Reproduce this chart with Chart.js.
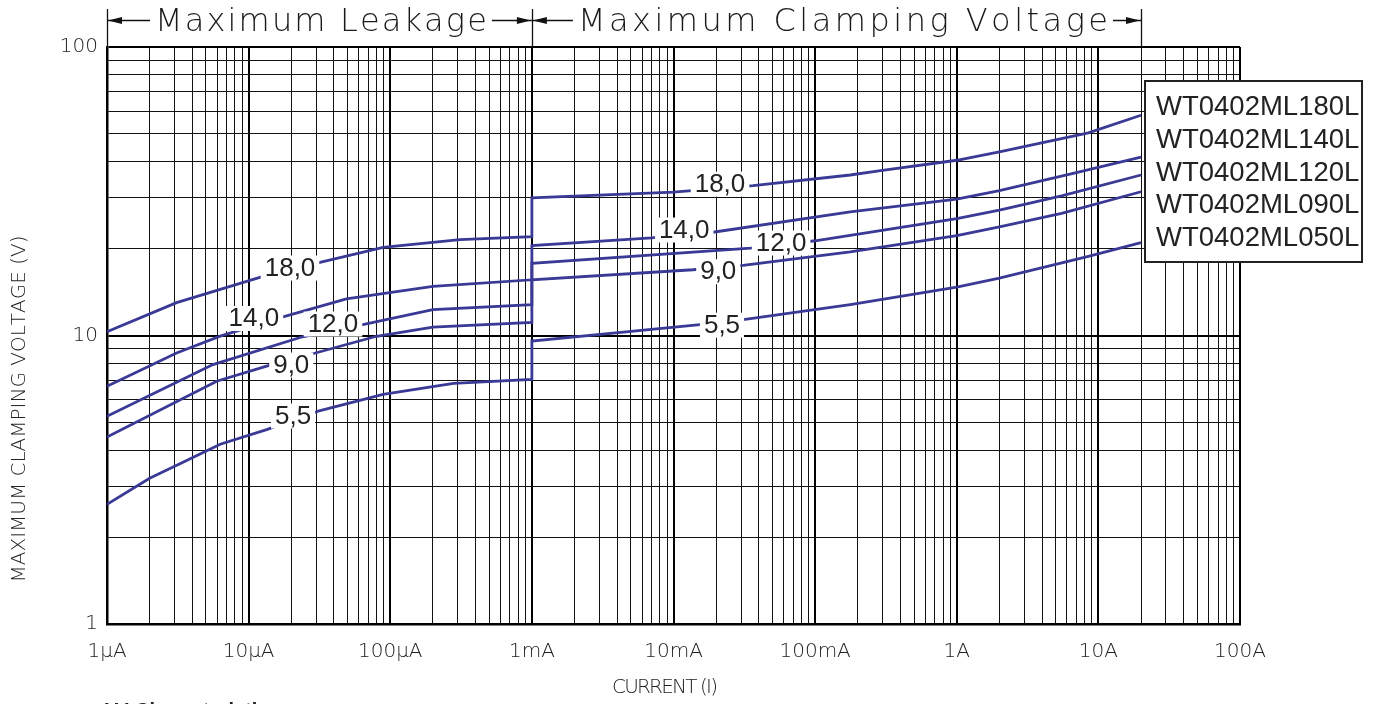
<!DOCTYPE html>
<html>
<head>
<meta charset="utf-8">
<script src="https://cdn.jsdelivr.net/npm/chart.js@4.4.1/dist/chart.umd.min.js"></script>
<style>
html,body{margin:0;padding:0;background:#fff;overflow:hidden}
#wrap{width:1375px;height:704px;position:relative}
</style>
</head>
<body>
<div id="wrap"><canvas id="c" width="1375" height="704"></canvas></div>
<script>
// ---------------- DATA ----------------
const seriesNames = ['WT0402ML180L','WT0402ML140L','WT0402ML120L','WT0402ML090L','WT0402ML050L'];

const current180 = [1e-6, 3.1e-6, 1.2e-5, 3.3e-5, 8.9e-5, 3.1e-4, 1e-3, 1e-3, 1e-2, 3.65e-2, 0.177, 0.29, 1, 2, 8.5, 20];
const voltage180 = [10.3, 13.0, 15.9, 18.0, 20.2, 21.5, 22.0, 30.0, 31.4, 33.1, 36.0, 37.3, 40.5, 43.3, 50.4, 58.0];

const current140 = [1e-6, 3.1e-6, 6.3e-6, 1.75e-5, 4.9e-5, 2.0e-4, 1e-3, 1e-3, 7e-3, 1.9e-2, 0.177, 1, 2, 6.2, 20];
const voltage140 = [6.67, 8.7, 9.95, 11.6, 13.4, 14.8, 15.6, 20.5, 21.8, 22.8, 26.8, 29.7, 31.8, 36.2, 41.5];

const current120 = [1e-6, 5.6e-6, 2.4e-5, 6.4e-5, 2.0e-4, 1e-3, 1e-3, 3.5e-2, 0.1, 1, 2, 5.5, 20];
const voltage120 = [5.25, 7.93, 9.9, 10.9, 12.3, 12.8, 17.8, 20.1, 21.3, 25.4, 27.2, 30.5, 36.0];

const current090 = [1e-6, 5.95e-6, 1.34e-5, 3.1e-5, 8.0e-5, 2.0e-4, 1e-3, 1e-3, 1.37e-2, 3.1e-2, 0.177, 1, 2, 5.5, 20];
const voltage090 = [4.45, 6.94, 7.83, 8.75, 9.94, 10.7, 11.1, 15.6, 16.9, 17.5, 19.5, 22.2, 23.8, 26.5, 31.5];

const current050 = [1e-6, 2e-6, 3.3e-6, 6.3e-6, 1.34e-5, 3.1e-5, 8.9e-5, 2.8e-4, 1e-3, 1e-3, 1.54e-2, 3.3e-2, 0.177, 1, 2, 8.5, 20];
const voltage050 = [2.6, 3.2, 3.6, 4.2, 4.72, 5.47, 6.25, 6.82, 7.04, 9.56, 10.9, 11.4, 12.8, 14.7, 15.8, 18.8, 21.0];

const xTickDecades = [1e-6, 1e-5, 1e-4, 1e-3, 1e-2, 1e-1, 1, 10, 100];
const xTickLabels  = ['1\u00B5A','10\u00B5A','100\u00B5A','1mA','10mA','100mA','1A','10A','100A'];
const yTickDecades = [1, 10, 100];
const yTickLabels  = ['1','10','100'];

const sectionTitles = ['Maximum Leakage', 'Maximum Clamping Voltage'];
const sectionBounds = [1e-6, 1e-3, 20];

const curveLabelText    = ['18,0','14,0','12,0','9,0','5,5','18,0','14,0','12,0','9,0','5,5'];
const curveLabelCurrent = [1.96e-5, 1.09e-5, 3.94e-5, 2.0e-5, 2.06e-5, 2.13e-2, 1.19e-2, 5.75e-2, 2.07e-2, 2.2e-2];
const curveLabelVoltage = [17.2, 11.5, 11.0, 7.93, 5.28, 33.6, 23.3, 21.0, 16.7, 10.9];

const xAxisTitle = 'CURRENT (I)';
const yAxisTitle = 'MAXIMUM CLAMPING VOLTAGE (V)';
const footerText = 'V-I Characteristics';

// ---------------- BUILD ----------------
const currents = [current180, current140, current120, current090, current050];
const voltages = [voltage180, voltage140, voltage120, voltage090, voltage050];

function minorTicks(lo, hi) {
  const out = [];
  for (let e = Math.round(Math.log10(lo)); e <= Math.round(Math.log10(hi)); e++) {
    for (let m = 1; m <= 9; m++) {
      const v = m * Math.pow(10, e);
      if (v >= lo * 0.999 && v <= hi * 1.001) out.push(v);
    }
  }
  return out;
}
function isDecade(v) {
  const l = Math.log10(v);
  return Math.abs(l - Math.round(l)) < 1e-6;
}
function decadeLabel(v, decs, labels) {
  if (!isDecade(v)) return '';
  const l = Math.round(Math.log10(v));
  for (let i = 0; i < decs.length; i++) if (Math.round(Math.log10(decs[i])) === l) return labels[i];
  return '';
}

const LINE_COLOR = '#3a3a96';
const datasets = seriesNames.map((name, i) => ({
  label: name,
  data: currents[i].map((c, j) => ({x: c, y: voltages[i][j]})),
  borderColor: LINE_COLOR,
  borderWidth: 2.8,
  pointRadius: 0,
  fill: false,
  tension: 0
}));

const TEXT_FONT = '"DejaVu Sans"';

function drawFitted(ctx, text, cx, cy, target) {
  const chars = [...text];
  const widths = chars.map(ch => ctx.measureText(ch).width);
  const w0 = widths.reduce((a, b) => a + b, 0);
  const sp = chars.length > 1 ? (target - w0) / (chars.length - 1) : 0;
  let x = cx - target / 2;
  ctx.textAlign = 'left';
  chars.forEach((ch, k) => { ctx.fillText(ch, x, cy); x += widths[k] + sp; });
}

const decor = {
  id: 'decor',
  afterDatasetsDraw(chart) {
    const ctx = chart.ctx, xs = chart.scales.x, ys = chart.scales.y;
    ctx.save();
    ctx.font = '26px "Liberation Sans", Arial, sans-serif';
    ctx.textBaseline = 'middle';
    ctx.textAlign = 'center';
    for (let i = 0; i < curveLabelText.length; i++) {
      const px = xs.getPixelForValue(curveLabelCurrent[i]);
      const py = ys.getPixelForValue(curveLabelVoltage[i]);
      const w = ctx.measureText(curveLabelText[i]).width;
      ctx.fillStyle = '#ffffff';
      ctx.fillRect(px - w / 2 - 4, py - 12, w + 8, 25);
      ctx.fillStyle = '#222222';
      ctx.fillText(curveLabelText[i], px, py + 1);
    }
    ctx.restore();
  },
  afterDraw(chart) {
    const ctx = chart.ctx, xs = chart.scales.x, ys = chart.scales.y, ca = chart.chartArea;
    ctx.save();
    // ---- section titles with arrows ----
    const bx = sectionBounds.map(v => xs.getPixelForValue(v));
    const yA = 20;
    ctx.strokeStyle = '#111';
    ctx.fillStyle = '#111';
    ctx.lineWidth = 1.3;
    bx.forEach(x => {
      ctx.beginPath(); ctx.moveTo(Math.round(x) + 0.5, 9); ctx.lineTo(Math.round(x) + 0.5, ca.top); ctx.stroke();
    });
    const margins = [[48, 45], [46, 33]];
    ctx.font = '200 32px ' + TEXT_FONT;
    ctx.textBaseline = 'alphabetic';
    for (let s = 0; s < sectionTitles.length; s++) {
      const L = bx[s], R = bx[s + 1];
      const tl = L + margins[s][0], tr = R - margins[s][1];
      ctx.fillStyle = '#1a1a1a';
      drawFitted(ctx, sectionTitles[s], (tl + tr) / 2, 31, tr - tl);
      ctx.fillStyle = '#111';
      ctx.beginPath();
      ctx.moveTo(L, yA + 0.5); ctx.lineTo(tl - 5, yA + 0.5);
      ctx.moveTo(tr + 5, yA + 0.5); ctx.lineTo(R, yA + 0.5);
      ctx.stroke();
      ctx.beginPath();
      ctx.moveTo(L + 1, yA + 0.5); ctx.lineTo(L + 15, yA - 3); ctx.lineTo(L + 15, yA + 4); ctx.closePath(); ctx.fill();
      ctx.beginPath();
      ctx.moveTo(R - 1, yA + 0.5); ctx.lineTo(R - 15, yA - 3); ctx.lineTo(R - 15, yA + 4); ctx.closePath(); ctx.fill();
    }
    // ---- axis titles ----
    ctx.fillStyle = '#222';
    ctx.font = '200 20px ' + TEXT_FONT;
    ctx.textBaseline = 'middle';
    drawFitted(ctx, xAxisTitle, 665, 688, 106);
    ctx.save();
    ctx.translate(20, 409);
    ctx.rotate(-Math.PI / 2);
    drawFitted(ctx, yAxisTitle, 0, 0, 347);
    ctx.restore();
    // ---- legend box ----
    const lx = xs.getPixelForValue(20) + 4, ly = 81, lw = 217, lh = 181;
    ctx.fillStyle = '#fff';
    ctx.fillRect(lx, ly, lw, lh);
    ctx.strokeStyle = '#222';
    ctx.lineWidth = 2;
    ctx.strokeRect(lx, ly, lw, lh);
    ctx.fillStyle = '#222';
    ctx.font = '27.5px "Liberation Sans", Arial, sans-serif';
    ctx.textAlign = 'left';
    ctx.textBaseline = 'alphabetic';
    seriesNames.forEach((n, i) => ctx.fillText(n, lx + 11, ly + 34 + i * 32.8));
    // ---- clipped footer ----
    ctx.font = 'bold 20px "Liberation Sans", Arial, sans-serif';
    ctx.textBaseline = 'top';
    ctx.fillStyle = '#222';
    ctx.fillText(footerText, 105, 701);
    ctx.restore();
  }
};

const gridColor = ctx => (ctx.tick && isDecade(ctx.tick.value)) ? '#000' : '#111';
const gridWidth = ctx => (ctx.tick && isDecade(ctx.tick.value)) ? 2 : 1;

new Chart(document.getElementById('c'), {
  type: 'line',
  data: { datasets },
  options: {
    responsive: false,
    animation: false,
    devicePixelRatio: 1,
    layout: { padding: { left: 0, right: 135, top: 47, bottom: 0 } },
    plugins: { legend: { display: false }, tooltip: { enabled: false } },
    events: [],
    scales: {
      x: {
        type: 'logarithmic',
        position: 'bottom',
        min: 1e-6, max: 100,
        afterBuildTicks: s => { s.ticks = minorTicks(1e-6, 100).map(v => ({ value: v, major: isDecade(v) })); },
        afterFit: s => { s.height = 80; },
        grid: { color: gridColor, lineWidth: gridWidth, drawTicks: false },
        border: { display: true, color: '#000', width: 2.5 },
        ticks: {
          autoSkip: false, maxRotation: 0, minRotation: 0, padding: 16,
          color: '#222', font: { family: 'DejaVu Sans', size: 20, weight: 200 },
          callback: v => decadeLabel(v, xTickDecades, xTickLabels)
        }
      },
      y: {
        type: 'logarithmic',
        min: 1, max: 100,
        afterBuildTicks: s => { s.ticks = minorTicks(1, 100).map(v => ({ value: v, major: isDecade(v) })); },
        afterFit: s => { s.width = 107; },
        grid: { color: gridColor, lineWidth: gridWidth, drawTicks: false },
        border: { display: true, color: '#000', width: 2.5 },
        ticks: {
          autoSkip: false, padding: 9,
          color: '#222', font: { family: 'DejaVu Sans', size: 20, weight: 200 },
          callback: v => decadeLabel(v, yTickDecades, yTickLabels)
        }
      }
    }
  },
  plugins: [decor]
});
</script>
</body>
</html>
